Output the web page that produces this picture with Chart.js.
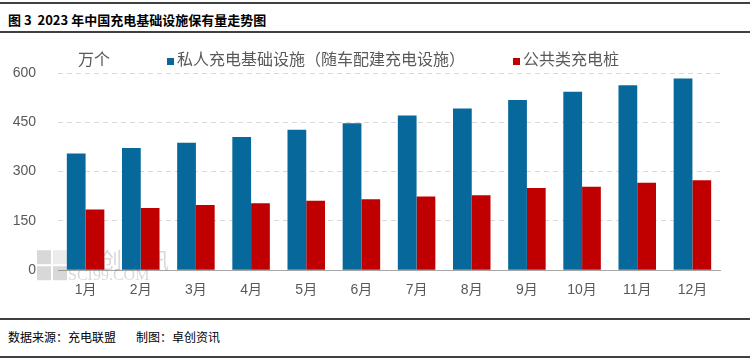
<!DOCTYPE html>
<html>
<head>
<meta charset="utf-8">
<script src="https://cdn.jsdelivr.net/npm/chart.js@4/dist/chart.umd.min.js"></script>
<style>
    html, body { margin: 0; padding: 0; background: #fff; }
    body { width: 750px; height: 360px; position: relative; overflow: hidden;
           font-family: "Noto Sans CJK SC", "Liberation Sans", sans-serif; }
    .rule { position: absolute; left: 0; width: 750px; background: #404040; }
    #title { position: absolute; left: 8px; top: 10px; font-size: 13px; font-weight: bold;
             color: #000; line-height: 20px; white-space: pre; }
    #footer { position: absolute; left: 8px; top: 328px; font-size: 12px; color: #000;
              line-height: 18px; white-space: pre; }
    #footer span { margin-left: 20px; }
    #wrap { position: absolute; left: 0; top: 33px; width: 750px; height: 285px; }
</style>
</head>
<body>
<div class="rule" style="top:2px;height:2px"></div>
<div id="title">图 3  2023 年中国充电基础设施保有量走势图</div>
<div class="rule" style="top:31px;height:2px"></div>
<div id="wrap"><canvas id="chart"></canvas></div>
<div class="rule" style="top:318px;height:2px"></div>
<div id="footer">数据来源：充电联盟<span>制图：卓创资讯</span></div>
<div class="rule" style="top:356px;height:2px"></div>

<script>
// =========================
// DATA
// =========================
const months = ['1月', '2月', '3月', '4月', '5月', '6月', '7月', '8月', '9月', '10月', '11月', '12月'];
const privateLabel = '私人充电基础设施（随车配建充电设施）';
const publicLabel = '公共类充电桩';
const privateValues = [355, 372, 388, 405, 427, 447, 471, 492, 518, 543, 563, 583];
const publicValues = [185, 189, 198, 204, 211, 216, 224, 228, 250, 254, 266, 274];
const unitLabel = '万个';

const textColor = '#595959';
const fontStack = '"Liberation Sans", "Noto Sans CJK SC", sans-serif';

// =========================
// LEGEND + UNIT (drawn on top)
// =========================
const topLegend = {
    id: 'topLegend',
    afterDraw(chart) {
        const ctx = chart.ctx;
        const area = chart.chartArea;
        const y = area.top - 12;
        ctx.save();
        ctx.font = '16px ' + fontStack;
        ctx.fillStyle = textColor;
        ctx.textBaseline = 'middle';
        ctx.fillText(unitLabel, area.left + 20, y);

        let x = 167;
        chart.data.datasets.forEach(ds => {
            ctx.fillStyle = ds.backgroundColor;
            ctx.fillRect(x, y - 3, 7, 7);
            ctx.fillStyle = textColor;
            ctx.fillText(ds.label, x + 10, y);
            x += 10 + ctx.measureText(ds.label).width + 48;
        });
        ctx.restore();
    }
};

// faint watermark near the origin
const watermark = {
    id: 'watermark',
    beforeDatasetsDraw(chart) {
        const ctx = chart.ctx;
        const area = chart.chartArea;
        const l = area.left, b = area.bottom;
        ctx.save();
        ctx.globalAlpha = 0.3;
        ctx.fillStyle = '#7f7f7f';
        ctx.fillRect(l - 21, b - 20, 14, 14);
        ctx.fillRect(l - 5, b - 4, 14, 14);
        ctx.fillRect(l - 21, b - 4, 14, 14);
        ctx.globalAlpha = 0.15;
        ctx.fillRect(l - 5, b - 20, 14, 14);
        ctx.globalAlpha = 0.3;
        ctx.textBaseline = 'middle';
        ctx.font = '22px "Noto Sans CJK SC"';
        ctx.fillText('创', l + 42, b - 11);
        ctx.fillText('讯', l + 89, b - 11);
        ctx.font = '16px "Liberation Serif", serif';
        ctx.fillText('SCI99.COM', l + 10, b + 6);
        ctx.restore();
    }
};

// =========================
// CHART
// =========================
new Chart(document.getElementById('chart'), {
    type: 'bar',
    data: {
        labels: months,
        datasets: [
            {
                label: privateLabel,
                data: privateValues,
                backgroundColor: '#07699b',
                categoryPercentage: 0.68,
                barPercentage: 1.0
            },
            {
                label: publicLabel,
                data: publicValues,
                backgroundColor: '#c00000',
                categoryPercentage: 0.68,
                barPercentage: 1.0
            }
        ]
    },
    options: {
        responsive: true,
        maintainAspectRatio: false,
        animation: false,
        layout: { padding: { left: 13, right: 30, top: 40, bottom: 7 } },
        plugins: {
            legend: { display: false },
            tooltip: { enabled: false }
        },
        scales: {
            x: {
                grid: { display: false, drawTicks: false },
                border: { display: true, color: '#a6a6a6', width: 1 },
                ticks: { color: textColor, font: { size: 14, family: fontStack }, padding: 12 }
            },
            y: {
                min: 0,
                max: 600,
                afterFit(scale) { scale.width = 45; },
                grid: { color: '#d9d9d9', drawTicks: false },
                border: { display: false, dash: [5, 4] },
                ticks: {
                    stepSize: 150,
                    color: textColor,
                    font: { size: 14, family: fontStack },
                    padding: 22
                }
            }
        }
    },
    plugins: [topLegend, watermark]
});
</script>
</body>
</html>
